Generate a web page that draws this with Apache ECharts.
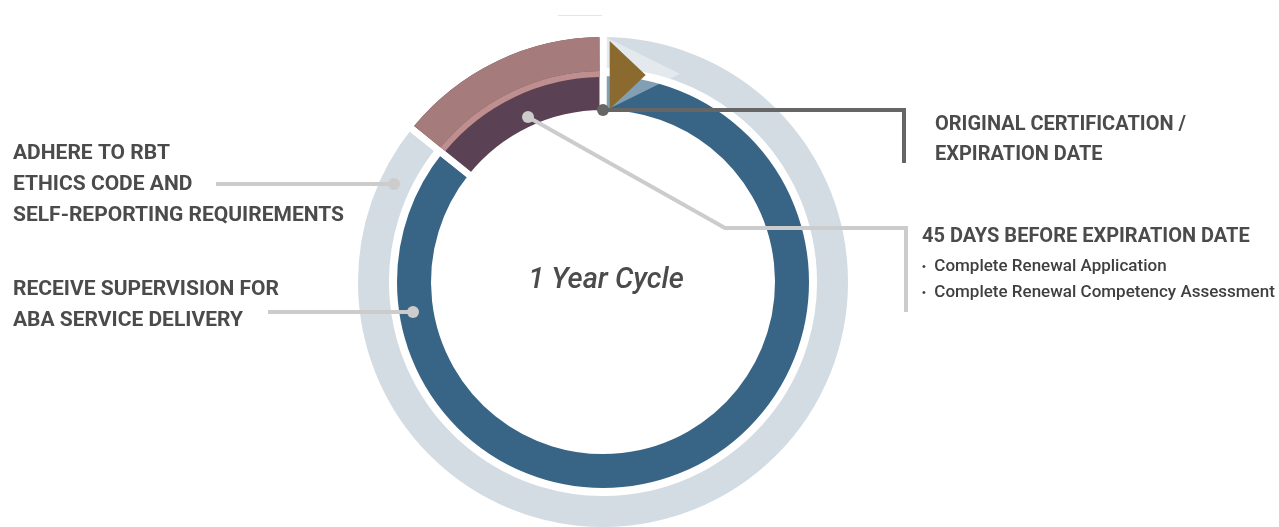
<!DOCTYPE html>
<html>
<head>
<meta charset="utf-8">
<script src="https://cdn.jsdelivr.net/npm/echarts@6/dist/echarts.min.js"></script>
<style>
  html, body { margin: 0; padding: 0; background: #fff; }
  #main { width: 1279px; height: 527px; }
</style>
</head>
<body>
<div id="main"></div>
<script>
// cycle data (days of a one year certification cycle)
const cycleDays = 365;
const segmentNames = ["Ongoing requirements", "45 days before expiration"];
const segmentDays = [313, 52];
// markers at the start of the cycle (days after certification date)
const markerNames = ["window", "certification"];
const markerDays = [11, 6.9];

const centerTitle = "1 Year Cycle";
const leftLabels = [
  ["ADHERE TO RBT", "ETHICS CODE AND", "SELF-REPORTING REQUIREMENTS"],
  ["RECEIVE SUPERVISION FOR", "ABA SERVICE DELIVERY"],
];
const rightLabels = [
  ["ORIGINAL CERTIFICATION /", "EXPIRATION DATE"],
  ["45 DAYS BEFORE EXPIRATION DATE"],
];
const renewalSteps = ["Complete Renewal Application", "Complete Renewal Competency Assessment"];

const CX = 603, CY = 282;
const GRAY = "#d3dce3", BLUE = "#386586", PINK = "#a67b7c", STRIP = "#bf8e8e", PURPLE = "#5a4254", GOLD = "#8a6a2e";
const TEXT = "#4b4b4b";

function ringData(colors) {
  return segmentDays.map((v, i) => ({
    name: segmentNames[i],
    value: v,
    itemStyle: colors[i] ? { color: colors[i] } : { color: "transparent", borderWidth: 0 },
  }));
}

function pieRing(radius, colors, extra) {
  return Object.assign({
    type: "pie",
    center: [CX, CY],
    radius: radius,
    startAngle: 90,
    clockwise: true,
    silent: true,
    animation: false,
    label: { show: false },
    labelLine: { show: false },
    itemStyle: { borderColor: "#fff", borderWidth: 7 },
    data: ringData(colors),
  }, extra || {});
}

const graphics = [];
function textLines(lines, x, y0, step, font, fill) {
  lines.forEach((t, i) => {
    graphics.push({
      type: "text", z: 100, x: x, y: y0 + i * step,
      style: { text: t, font: font, fill: fill, align: "left", verticalAlign: "middle" },
    });
  });
}
function leader(points, color, dot) {
  graphics.push({
    type: "polyline", z: 100,
    shape: { points: points },
    style: { stroke: color, lineWidth: 4, fill: null, lineJoin: "miter" },
  });
  graphics.push({ type: "circle", z: 101, shape: { cx: dot[0], cy: dot[1], r: 6 }, style: { fill: color } });
}

textLines(leftLabels[0], 13, 154, 31, "bold 21px Roboto", TEXT);
textLines(leftLabels[1], 13, 290, 31, "bold 21px Roboto", TEXT);
textLines(rightLabels[0], 935, 124.5, 30.5, "bold 20px Roboto", TEXT);
textLines(rightLabels[1], 922, 237, 30, "bold 20px Roboto", TEXT);
renewalSteps.forEach((t, i) => {
  graphics.push({
    type: "text", z: 100, x: 922, y: 266.5 + i * 26.5,
    style: {
      text: "{b|\u2022}  " + t,
      font: "500 17px Roboto", fill: "#3f3f3f", align: "left", verticalAlign: "middle",
      rich: { b: { fontSize: 11, fill: "#3f3f3f" } },
    },
  });
});

leader([[603, 110], [904, 110], [904, 163]], "#666666", [603, 110]);
leader([[528, 117], [725, 228], [906, 228], [906, 312]], "#cccccc", [528, 117]);
leader([[216, 184], [394, 184]], "#cccccc", [394, 184]);
leader([[268, 312], [413, 312]], "#cccccc", [413, 312]);

graphics.push({
  type: "text", z: 100, x: CX + 3, y: 281,
  style: { text: centerTitle, font: "italic 500 29px Roboto", fill: TEXT, align: "center", verticalAlign: "middle" },
});
graphics.push({ type: "rect", z: 100, shape: { x: 558, y: 15, width: 44, height: 1 }, style: { fill: "#f0e1e3" } });

const chart = echarts.init(document.getElementById("main"), null, { renderer: "canvas" });
chart.setOption({
  backgroundColor: "#ffffff",
  animation: false,
  polar: { center: [CX, CY], radius: 245 },
  angleAxis: { type: "value", min: 0, max: cycleDays, startAngle: 90, clockwise: true, show: false },
  radiusAxis: { type: "value", min: 0, max: 245, show: false },
  graphic: graphics,
  series: [
    pieRing([210.5, 248.5], [GRAY, null]),
    pieRing([168.5, 209.5], [BLUE, null]),
    pieRing([168.5, 248.5], [null, PURPLE]),
    pieRing([211, 245], [null, PINK], { padAngle: 1.8, itemStyle: { borderWidth: 0 } }),
    pieRing([205, 211], [null, STRIP], { padAngle: 1.9, itemStyle: { borderWidth: 0 } }),
    {
      type: "scatter",
      coordinateSystem: "polar",
      silent: true,
      z: 5,
      symbol: "triangle",
      symbolRotate: -90,
      symbolSize: [73, 74],
      itemStyle: { color: "rgba(255,255,255,0.47)" },
      data: [{ name: markerNames[0], value: [212, markerDays[0]] }],
    },
    {
      type: "scatter",
      coordinateSystem: "polar",
      silent: true,
      z: 6,
      symbol: "triangle",
      symbolRotate: -90,
      symbolSize: [68, 36],
      itemStyle: { color: GOLD, opacity: 1 },
      data: [{ name: markerNames[1], value: [208.4, markerDays[1]] }],
    },
  ],
});
</script>
</body>
</html>
